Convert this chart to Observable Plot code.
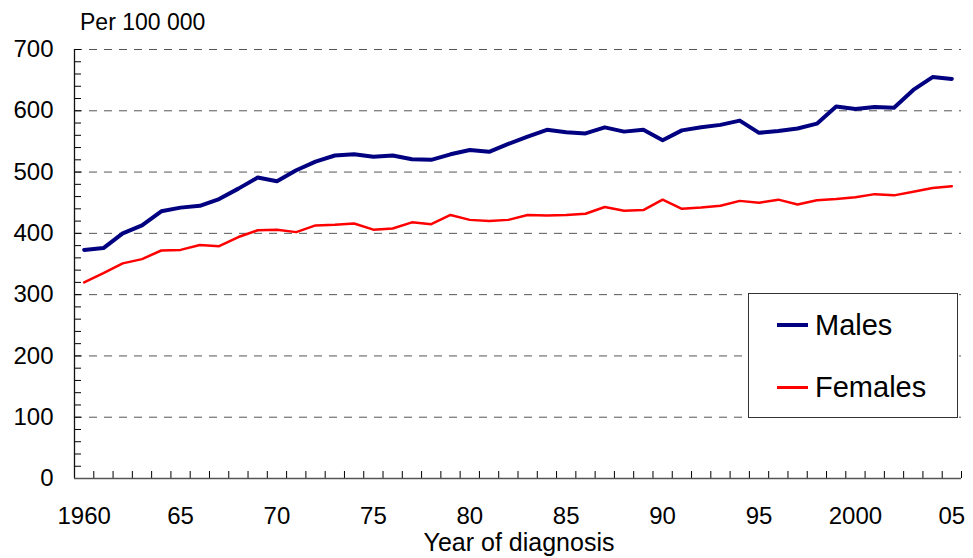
<!DOCTYPE html>
<html>
<head>
<meta charset="utf-8">
<script src="https://cdn.jsdelivr.net/npm/d3@7"></script>
<script src="https://cdn.jsdelivr.net/npm/@observablehq/plot@0.6"></script>
<style>
  html, body { margin: 0; padding: 0; background: #fff; }
  #wrap { position: relative; width: 973px; height: 558px; font-family: "Liberation Sans", Arial, sans-serif; color: #000; }
  #wrap svg { position: absolute; left: 0; top: 0; }
  .ann { position: absolute; white-space: nowrap; line-height: 1; }
  #legend { position: absolute; left: 748px; top: 293px; width: 208px; height: 123px; background: #fff; border: 1.5px solid #333; }
  .lg-row { position: absolute; left: 28px; height: 30px; display: flex; align-items: center; font-size: 29px; }
  .lg-swatch { width: 31px; margin-right: 7px; }
</style>
</head>
<body>
<div id="wrap"></div>
<script>
const years = [1960,1961,1962,1963,1964,1965,1966,1967,1968,1969,
  1970,1971,1972,1973,1974,1975,1976,1977,1978,1979,
  1980,1981,1982,1983,1984,1985,1986,1987,1988,1989,
  1990,1991,1992,1993,1994,1995,1996,1997,1998,1999,
  2000,2001,2002,2003,2004,2005];
const males = [373,376,400,413,436,442,445,456,473,491,
  485,503,517,527,529,525,527,521,520,529,
  536,533,546,558,569,565,563,573,566,569,
  552,568,573,577,584,564,567,571,579,607,
  603,606,605,634,655,652];
const females = [320,335,351,358,372,373,381,379,394,405,
  406,402,413,414,416,406,408,418,415,430,
  422,420,422,430,429,430,432,443,437,438,
  455,440,442,445,453,450,455,447,454,456,
  459,464,462,468,474,477];
const xLabelYears = [1960,1965,1970,1975,1980,1985,1990,1995,2000,2005];
const xLabelTexts = ["1960","65","70","75","80","85","90","95","2000","05"];
const yMajor = [0,100,200,300,400,500,600,700];
const yMinor = [0,20,40,60,80,100,120,140,160,180,200,220,240,260,280,300,320,340,360,380,400,420,440,460,480,500,520,540,560,580,600,620,640,660,680,700];
const seriesNames = ["Males","Females"];
const seriesColors = ["#000080","#ff0000"];

const xDomain = [years[0] - 0.5, years[years.length - 1] + 0.5];
const xBoundaries = years.map(y => y - 0.5).concat([xDomain[1]]);
const data = years.flatMap((yr, i) => [
  {year: yr, value: males[i], series: "Males"},
  {year: yr, value: females[i], series: "Females"}
]);
const labelMap = new Map(xLabelYears.map((y, i) => [y, xLabelTexts[i]]));

const W = 973, H = 558, mL = 74, mR = 12, mT = 49, mB = 80;
const frameW = W - mL - mR, frameH = H - mT - mB;

const chart = Plot.plot({
  width: W, height: H,
  marginLeft: mL, marginRight: mR, marginTop: mT, marginBottom: mB,
  style: {fontFamily: '"Liberation Sans", Arial, sans-serif', color: "#000", background: "#fff"},
  x: {domain: xDomain, axis: null},
  y: {domain: [0, 700], axis: null},
  marks: [
    Plot.ruleY(yMajor.filter(v => v > 0), {stroke: "#555", strokeWidth: 1, strokeDasharray: "8,7"}),
    Plot.tickY(yMinor, {y: d => d, stroke: "#000", strokeWidth: 1, insetRight: frameW - 7}),
    Plot.tickX(xBoundaries, {x: d => d, stroke: "#000", strokeWidth: 1, insetTop: frameH - 7}),
    Plot.ruleX([xDomain[0]], {stroke: "#111", strokeWidth: 1.3}),
    Plot.ruleY([0], {stroke: "#555", strokeWidth: 1.5}),
    Plot.axisY({ticks: yMajor, tickSize: 0, tickPadding: 21, fontSize: 24, label: null, tickFormat: d => String(d)}),
    Plot.axisX({ticks: xLabelYears, tickSize: 0, tickPadding: 28, fontSize: 24, label: null, tickFormat: d => labelMap.get(d)}),
    Plot.line(data.filter(d => d.series === "Females"), {x: "year", y: "value", stroke: seriesColors[1], strokeWidth: 2.5, strokeLinejoin: "round"}),
    Plot.line(data.filter(d => d.series === "Males"), {x: "year", y: "value", stroke: seriesColors[0], strokeWidth: 4, strokeLinejoin: "round"})
  ]
});

const wrap = document.getElementById("wrap");
wrap.appendChild(chart);

const yTitle = document.createElement("div");
yTitle.className = "ann";
yTitle.style.left = "80px"; yTitle.style.top = "11px"; yTitle.style.fontSize = "23px";
yTitle.textContent = "Per 100 000";
wrap.appendChild(yTitle);

const xTitle = document.createElement("div");
xTitle.className = "ann";
xTitle.style.left = "519px"; xTitle.style.top = "530px"; xTitle.style.fontSize = "25px";
xTitle.style.transform = "translateX(-50%)";
xTitle.textContent = "Year of diagnosis";
wrap.appendChild(xTitle);

const legend = document.createElement("div");
legend.id = "legend";
const rowTops = [16, 78];
seriesNames.forEach((name, i) => {
  const row = document.createElement("div");
  row.className = "lg-row";
  row.style.top = rowTops[i] + "px";
  const sw = document.createElement("div");
  sw.className = "lg-swatch";
  sw.style.borderTop = (i === 0 ? 4 : 3) + "px solid " + seriesColors[i];
  const tx = document.createElement("span");
  tx.textContent = name;
  row.appendChild(sw); row.appendChild(tx);
  legend.appendChild(row);
});
wrap.appendChild(legend);
</script>
</body>
</html>
